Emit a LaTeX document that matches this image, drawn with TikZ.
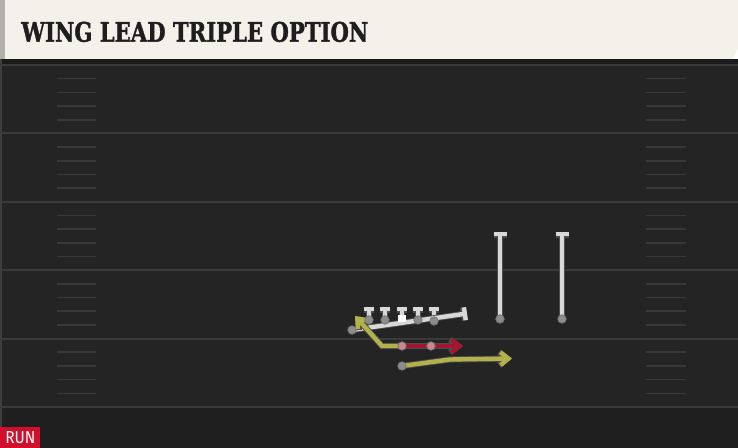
\documentclass[tikz,border=0pt]{standalone}
\usepackage{fontspec}
\newfontfamily\ttlfont[BoldFeatures={FakeBold=1.6}]{DejaVu Serif}
\newfontfamily\runfont{Fira Sans}
\usepackage{tikz}
\usetikzlibrary{arrows.meta,positioning,calc}
\definecolor{hdr}{RGB}{244,241,234}
\definecolor{hdrside}{RGB}{178,176,170}
\definecolor{hdrtxt}{RGB}{30,30,30}
\definecolor{fld}{RGB}{36,36,36}
\definecolor{fldlow}{RGB}{31,31,31}
\definecolor{fldtop}{RGB}{27,27,27}
\definecolor{edge}{RGB}{62,62,62}
\definecolor{yard}{RGB}{58,58,58}
\definecolor{hash}{RGB}{56,56,56}
\definecolor{runred}{RGB}{210,16,44}
\definecolor{rtwhite}{RGB}{216,216,216}
\definecolor{rtyellow}{RGB}{179,178,74}
\definecolor{rtred}{RGB}{163,23,46}
\definecolor{plgray}{RGB}{140,140,140}
\definecolor{plpink}{RGB}{200,135,145}
\pgfdeclarelayer{field}
\pgfdeclarelayer{routes}
\pgfsetlayers{field,routes,main}
\tikzset{
  plr/.style={circle,fill=plgray,draw=black!55,line width=0.4pt,inner sep=0,minimum size=0.17cm},
  ctr/.style={rectangle,fill=white,inner sep=0,minimum size=0.15cm},
  route/.style={line width=2.5pt,preaction={draw=black!70,line width=3.5pt}},
  wht/.style={route,draw=rtwhite},
  ylw/.style={route,draw=rtyellow},
  rd/.style={route,draw=rtred},
  blkw/.style={-{Bar[width=7.4pt]}},
  blko/.style={-{Bar[width=5.7pt]}},
  arw/.style={-{Straight Barb[length=4.6pt,width=7.4pt]}},
  yl/.style={draw=yard,line width=1.1pt},
  hs/.style={draw=hash,line width=0.9pt}
}
\begin{document}
\begin{tikzpicture}[x=0.02cm,y=-0.02cm]
    \useasboundingbox (0,0) rectangle (738,448);
    \begin{pgfonlayer}{field}
        \fill[fld] (0,59) rectangle (738,448);
        \fill[fldlow] (0,408) rectangle (738,448);
        \fill[fldtop] (0,59) rectangle (738,65);
        \fill[hdr] (0,0) -- (738,0) -- (738,48) -- (733,59) -- (0,59) -- cycle;
        \fill[hdrside] (0,0) rectangle (5,59);
        \fill[edge] (0,59) rectangle (2,448);
        \draw[yl] (0,65) -- (738,65);
        \foreach \i in {1,...,5}
            \draw[yl] (0,65+68.4*\i) -- (738,65+68.4*\i);
        \foreach \i in {0,...,4}
            \foreach \j in {1,...,4} {
                \draw[hs] (57,65+68.4*\i+13.68*\j) -- (96,65+68.4*\i+13.68*\j);
                \draw[hs] (646,65+68.4*\i+13.68*\j) -- (686,65+68.4*\i+13.68*\j);
            }
    \end{pgfonlayer}

    \node[anchor=base west,inner sep=0,text=hdrtxt] (ttl) at (21,41.7)
        {\resizebox{6.94cm}{0.4cm}{\ttlfont\bfseries WING LEAD TRIPLE OPTION}};
    \node[fill=runred,text=white,anchor=south west,inner sep=0,minimum width=0.8cm,minimum height=0.42cm] (run) at (0,448)
        {\resizebox{0.6cm}{0.24cm}{\runfont RUN}};

    \node[plr] (lt) at (369,320) {};
    \node[plr] (lg) at (385,320) {};
    \node[ctr] (c) at (402,318.5) {};
    \node[plr] (rg) at (418,320) {};
    \node[plr] (rt) at (434,321) {};
    \node[plr] (wg) at (352,330) {};
    \node[plr] (wr1) at (500,319) {};
    \node[plr] (wr2) at (562,319) {};
    \node[plr,fill=plpink] (qb) at (402,346) {};
    \node[plr,fill=plpink] (fb) at (431,346) {};
    \node[plr] (tb) at (402,366) {};

    \coordinate (lnt) at (0,307);
    \coordinate (wr1t) at (500,232);
    \coordinate (wr2t) at (562,232);
    \coordinate (wgend) at (467,313.5);
    \coordinate (qbk) at (382,346);
    \coordinate (qbend) at (355,316);
    \coordinate (fbend) at (463,346);
    \coordinate (tbk) at (450,359.5);
    \coordinate (tbend) at (512,358.5);

    \begin{pgfonlayer}{routes}
        \foreach \n in {lt,lg,c,rg,rt}
            \draw[wht,blko] (\n.center) -- (\n |- lnt);
        \draw[wht,blkw] (wr1.center) -- (wr1t);
        \draw[wht,blkw] (wr2.center) -- (wr2t);
        \draw[wht,blkw] (wg.center) -- (wgend);
        \draw[ylw,arw] (qb.center) -- (qbk) -- (qbend);
        \draw[rd,arw] (qb.center) -- (fbend);
        \draw[ylw,arw] (tb.center) -- (tbk) -- (tbend);
    \end{pgfonlayer}
\end{tikzpicture}
\end{document}
